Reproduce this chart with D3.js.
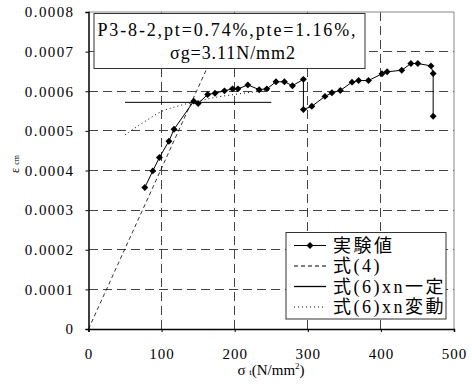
<!DOCTYPE html>
<html>
<title>P3-8-2</title>
<meta charset="UTF-8">
<script type="text/javascript" src="https://d3js.org/d3.v7.min.js"></script>
<style type="text/css">
	body {
		margin:0;
		background:white;
	}
	.grid line {
		stroke: #444;
		stroke-dasharray: 9,5;
		shape-rendering: crispEdges;
	}
</style>
<body>
	<svg id="viz"></svg>
</body>
<script type="text/javascript">

	// measured values
	var sigmaT = [77, 88, 97, 110, 117, 144, 150, 163, 173, 186, 197, 204.5, 218, 233.5, 244, 256.5, 268, 279, 294, 294, 305.5, 323.5, 333, 344.5, 360.5, 369.5, 383, 401.5, 408.5, 428.5, 441, 450.5, 468.5, 471.5, 471.5];
	var epsCm = [0.000357, 0.000399, 0.000433, 0.000474, 0.000504, 0.000575, 0.000569, 0.000592, 0.000595, 0.000601, 0.000606, 0.000606, 0.000616, 0.000604, 0.000606, 0.000624, 0.000624, 0.000614, 0.000630, 0.000554, 0.000562, 0.000587, 0.000596, 0.000602, 0.000623, 0.000627, 0.000627, 0.000644, 0.000649, 0.000653, 0.000670, 0.000670, 0.000664, 0.000645, 0.000537];

	// 式(4)
	var eq4X = [0, 197];
	var eq4Y = [0, 0.0008];

	// 式(6) xn一定
	var eq6cX = [50, 250];
	var eq6cY = [0.000572, 0.000572];

	// 式(6) xn変動
	var eq6vX = [50, 75, 100, 125, 150, 175, 200, 225, 250];
	var eq6vY = [0.000490, 0.000521, 0.000549, 0.000564, 0.000575, 0.000585, 0.000592, 0.000598, 0.000603];

	var xTicks = [0, 100, 200, 300, 400, 500];
	var yTicks = [0, 0.0001, 0.0002, 0.0003, 0.0004, 0.0005, 0.0006, 0.0007, 0.0008];
	var legendLabels = ["実験値", "式(4)", "式(6)xn一定", "式(6)xn変動"];

	var SERIF = "'Liberation Serif'";
	var MIXED = "'Liberation Serif', 'Noto Sans CJK JP'";

	var width = 472, height = 385;
	var margin = {left: 88.5, right: 18, top: 12, bottom: 56};

	var xScale = d3.scaleLinear()
		.domain([0, 500])
		.range([margin.left, width - margin.right]);

	var yScale = d3.scaleLinear()
		.domain([0, 0.0008])
		.range([height - margin.bottom, margin.top]);

	var svg = d3.select("#viz")
		.attr("width", width)
		.attr("height", height);

	svg.append("clipPath").attr("id", "plotClip")
		.append("rect")
		.attr("x", margin.left).attr("y", margin.top)
		.attr("width", xScale(500) - margin.left)
		.attr("height", yScale(0) - margin.top);

	// grid
	var grid = svg.append("g").attr("class", "grid");
	grid.selectAll("line.v")
		.data(xTicks.slice(1, -1))
		.enter().append("line")
		.attr("x1", function(d){ return xScale(d); })
		.attr("x2", function(d){ return xScale(d); })
		.attr("y1", yScale(0))
		.attr("y2", yScale(0.0008));
	grid.selectAll("line.h")
		.data(yTicks.slice(1, -1))
		.enter().append("line")
		.attr("class", "h")
		.attr("x1", xScale(0))
		.attr("x2", xScale(500))
		.attr("y1", function(d){ return yScale(d); })
		.attr("y2", function(d){ return yScale(d); });

	// top / right frame
	svg.append("path")
		.attr("d", "M" + xScale(0) + "," + yScale(0.0008) + "H" + xScale(500) + "V" + yScale(0))
		.attr("fill", "none")
		.attr("stroke", "#888");

	// axes
	var xAxis = d3.axisBottom(xScale)
		.tickValues(xTicks)
		.tickSize(3)
		.tickPadding(16)
		.tickFormat(d3.format("d"));
	svg.append("g")
		.attr("transform", "translate(0," + yScale(0) + ")")
		.call(xAxis)
		.attr("font-family", SERIF)
		.attr("font-size", 15)
		.call(function(g){
			g.select(".domain").attr("stroke-width", 1.5);
			g.selectAll(".tick text").style("letter-spacing", "1px");
		});

	var yAxis = d3.axisLeft(yScale)
		.tickValues(yTicks)
		.tickSize(3)
		.tickPadding(11)
		.tickFormat(function(d){ return d === 0 ? "0" : d.toFixed(4); });
	svg.append("g")
		.attr("transform", "translate(" + xScale(0) + ",0)")
		.call(yAxis)
		.attr("font-family", SERIF)
		.attr("font-size", 15)
		.call(function(g){
			g.select(".domain").attr("stroke-width", 1.5);
			g.selectAll(".tick text").style("letter-spacing", "1.4px");
		});

	var plot = svg.append("g").attr("clip-path", "url(#plotClip)");

	var line = d3.line()
		.x(function(d){ return xScale(d[0]); })
		.y(function(d){ return yScale(d[1]); });

	plot.append("path")
		.datum(d3.zip(eq4X, eq4Y))
		.attr("d", line)
		.attr("fill", "none")
		.attr("stroke", "black")
		.attr("stroke-width", 0.8)
		.attr("stroke-dasharray", "4,3");

	plot.append("path")
		.datum(d3.zip(eq6cX, eq6cY))
		.attr("d", line)
		.attr("fill", "none")
		.attr("stroke", "black")
		.attr("stroke-width", 1);

	plot.append("path")
		.datum(d3.zip(eq6vX, eq6vY))
		.attr("d", line.curve(d3.curveMonotoneX))
		.attr("fill", "none")
		.attr("stroke", "black")
		.attr("stroke-width", 1)
		.attr("stroke-dasharray", "1,3");
	line.curve(d3.curveLinear);

	var expData = d3.zip(sigmaT, epsCm);
	plot.append("path")
		.datum(expData)
		.attr("d", line)
		.attr("fill", "none")
		.attr("stroke", "black")
		.attr("stroke-width", 1);

	var diamond = d3.symbol().type(d3.symbolSquare).size(24);
	plot.selectAll("path.pt")
		.data(expData)
		.enter().append("path")
		.attr("class", "pt")
		.attr("d", diamond)
		.attr("transform", function(d){
			return "translate(" + xScale(d[0]) + "," + yScale(d[1]) + ") rotate(45)";
		})
		.attr("fill", "black");

	// info box
	var info = svg.append("g");
	info.append("rect")
		.attr("x", 94).attr("y", 13.5)
		.attr("width", 271).attr("height", 55)
		.attr("fill", "white")
		.attr("stroke", "#333");
	info.append("text")
		.attr("x", 97.5).attr("y", 36)
		.style("font-family", SERIF)
		.style("font-size", "18px")
		.attr("textLength", 258)
		.attr("lengthAdjust", "spacing")
		.text("P3-8-2,pt=0.74%,pte=1.16%,");
	info.append("text")
		.attr("x", 170).attr("y", 59)
		.style("font-family", SERIF)
		.style("font-size", "18px")
		.attr("textLength", 125)
		.attr("lengthAdjust", "spacing")
		.text("σg=3.11N/mm2");

	// legend
	var legend = svg.append("g");
	legend.append("rect")
		.attr("x", 286).attr("y", 232.5)
		.attr("width", 160).attr("height", 86.5)
		.attr("fill", "white")
		.attr("stroke", "#333");
	var rowY = [245.5, 266, 286.5, 307];
	var dashes = [null, "4,3", null, "1,3"];
	var rows = legend.selectAll("g.row")
		.data(legendLabels)
		.enter().append("g")
		.attr("transform", function(d, i){ return "translate(0," + rowY[i] + ")"; });
	rows.append("line")
		.attr("x1", 294).attr("x2", 326)
		.attr("stroke", "black")
		.attr("stroke-width", function(d, i){ return i === 2 ? 1.3 : 1; })
		.attr("stroke-dasharray", function(d, i){ return dashes[i]; });
	rows.filter(function(d, i){ return i === 0; })
		.append("path")
		.attr("d", diamond)
		.attr("transform", "translate(310,0) rotate(45)");
	rows.append("text")
		.attr("x", 333)
		.attr("dy", "0.36em")
		.style("font-family", MIXED)
		.style("font-size", "18px")
		.style("letter-spacing", "2.5px")
		.text(function(d){ return d; });

	// axis titles
	var xTitle = svg.append("text")
		.attr("x", 271).attr("y", 375)
		.attr("text-anchor", "middle")
		.style("font-family", SERIF)
		.style("font-size", "15px");
	xTitle.append("tspan").text("σ ");
	xTitle.append("tspan").style("font-size", "9px").text("t");
	xTitle.append("tspan").text("(N/mm");
	xTitle.append("tspan").style("font-size", "9px").attr("dy", -6).text("2");
	xTitle.append("tspan").attr("dy", 6).text(")");

	var yTitle = svg.append("text")
		.attr("transform", "translate(19,164) rotate(-90)")
		.attr("text-anchor", "middle")
		.style("font-family", SERIF)
		.style("font-size", "12px");
	yTitle.append("tspan").text("ε ");
	yTitle.append("tspan").style("font-size", "8px").text("cm");

</script>
</html>
